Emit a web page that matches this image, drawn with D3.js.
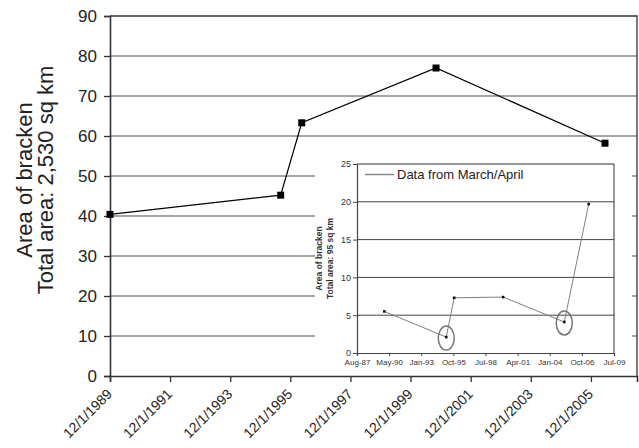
<!DOCTYPE html>
<html>
<head>
<meta charset="utf-8">
<script src="https://cdn.jsdelivr.net/npm/d3@7"></script>
<style>
  body { margin: 0; background: #fff; }
  svg { display: block; font-family: "Liberation Sans", Arial, sans-serif; }
</style>
</head>
<body>
<div id="chart"></div>
<script>
// -----------------------------
// DATA
// -----------------------------
const mainDates  = ["1989-12-01", "1995-08-06", "1996-04-18", "2000-10-06", "2006-05-21"];
const mainValues = [40.4, 45.2, 63.3, 77.0, 58.2];
const mainXTicks = ["1989-12-01", "1991-12-01", "1993-12-01", "1995-12-01", "1997-12-01",
                    "1999-12-01", "2001-12-01", "2003-12-01", "2005-12-01"];
const mainYTicks = [0, 10, 20, 30, 40, 50, 60, 70, 80, 90];
const mainTitle  = ["Area of bracken", "Total area: 2,530 sq km"];

const insetDates  = ["1989-12-07", "1995-03-20", "1995-11-22", "2000-01-24", "2005-04-10", "2007-05-11"];
const insetValues = [5.5, 2.1, 7.3, 7.4, 4.1, 19.7];
const insetXTicks = ["1987-08-11", "1990-05-07", "1993-01-31", "1995-10-28", "1998-07-24",
                     "2001-04-19", "2004-01-14", "2006-10-10", "2009-07-06"];
const insetYTicks = [0, 5, 10, 15, 20, 25];
const insetTitle  = ["Area of bracken", "Total area: 95 sq km"];
const insetLegend = "Data from March/April";
const circled     = [1, 4];   // points ringed in the inset

const parse = d3.utcParse("%Y-%m-%d");

const drawChart = () => {
  const width = 639, height = 448;

  const svg = d3.select("#chart").append("svg")
    .attr("width", width)
    .attr("height", height);

  // -----------------------------
  // MAIN CHART
  // -----------------------------
  const m = { left: 110, right: 637, top: 16, bottom: 376 };

  const x = d3.scaleUtc()
    .domain([parse("1989-12-01"), parse("2007-06-14")])
    .range([m.left, m.right]);

  const y = d3.scaleLinear()
    .domain([0, 90])
    .range([m.bottom, m.top]);

  // gridlines
  svg.append("g")
    .selectAll("line")
    .data(mainYTicks.slice(1, -1))
    .join("line")
    .attr("x1", m.left).attr("x2", m.right)
    .attr("y1", d => y(d)).attr("y2", d => y(d))
    .attr("stroke", "#4a4a4a")
    .attr("stroke-width", 1);

  // plot frame (top + right)
  svg.append("path")
    .attr("d", `M${m.left},${m.top}H${m.right}V${m.bottom}`)
    .attr("fill", "none")
    .attr("stroke", "#333")
    .attr("stroke-width", 1.3);

  const yAxis = svg.append("g")
    .attr("transform", `translate(${m.left},0)`)
    .call(d3.axisLeft(y).tickValues(mainYTicks).tickSize(6).tickPadding(7));

  const xAxis = svg.append("g")
    .attr("transform", `translate(0,${m.bottom})`)
    .call(d3.axisBottom(x).tickValues(mainXTicks.map(parse)).tickSize(6).tickFormat(""));

  [yAxis, xAxis].forEach(a => {
    a.select(".domain").attr("stroke", "#333").attr("stroke-width", 1.6);
    a.selectAll(".tick line").attr("stroke", "#333").attr("stroke-width", 1.3);
  });
  yAxis.selectAll(".tick text")
    .style("font-size", "17px")
    .attr("fill", "#222");

  // rotated date labels
  const fmtMain = d3.utcFormat("%-m/%-d/%Y");
  svg.append("g")
    .selectAll("text")
    .data(mainXTicks.map(parse))
    .join("text")
    .attr("transform", d => `translate(${x(d) - 4},388) rotate(-45)`)
    .attr("dy", "0.71em")
    .attr("text-anchor", "end")
    .style("font-size", "14px")
    .attr("fill", "#222")
    .text(fmtMain);

  // y title
  svg.append("text")
    .attr("transform", "translate(32,180) rotate(-90)")
    .attr("text-anchor", "middle")
    .style("font-size", "22px")
    .attr("fill", "#222")
    .selectAll("tspan")
    .data(mainTitle)
    .join("tspan")
    .attr("x", 0)
    .attr("dy", (d, i) => i ? 21 : 0)
    .text(d => d);

  // line + markers
  const mainData = mainDates.map((d, i) => ({ date: parse(d), value: mainValues[i] }));

  svg.append("path")
    .datum(mainData)
    .attr("fill", "none")
    .attr("stroke", "#000")
    .attr("stroke-width", 1.2)
    .attr("d", d3.line().x(d => x(d.date)).y(d => y(d.value)));

  svg.append("g")
    .selectAll("rect")
    .data(mainData)
    .join("rect")
    .attr("x", d => x(d.date) - 3.5)
    .attr("y", d => y(d.value) - 3.5)
    .attr("width", 7).attr("height", 7)
    .attr("fill", "#000");

  // -----------------------------
  // INSET CHART
  // -----------------------------
  svg.append("rect")
    .attr("x", 315).attr("y", 150)
    .attr("width", 317).attr("height", 223)
    .attr("fill", "#fff");

  const n = { left: 357, right: 614, top: 164, bottom: 353 };

  const ix = d3.scaleUtc()
    .domain([parse(insetXTicks[0]), parse(insetXTicks[insetXTicks.length - 1])])
    .range([n.left, n.right]);

  const iy = d3.scaleLinear()
    .domain([0, 25])
    .range([n.bottom, n.top]);

  svg.append("g")
    .selectAll("line")
    .data(insetYTicks.slice(1, -1))
    .join("line")
    .attr("x1", n.left).attr("x2", n.right)
    .attr("y1", d => iy(d)).attr("y2", d => iy(d))
    .attr("stroke", "#444")
    .attr("stroke-width", 1);

  svg.append("path")
    .attr("d", `M${n.left},${n.top}H${n.right}V${n.bottom}`)
    .attr("fill", "none")
    .attr("stroke", "#333")
    .attr("stroke-width", 1);

  const iyAxis = svg.append("g")
    .attr("transform", `translate(${n.left},0)`)
    .call(d3.axisLeft(iy).tickValues(insetYTicks).tickSize(4).tickPadding(2));

  const ixAxis = svg.append("g")
    .attr("transform", `translate(0,${n.bottom})`)
    .call(d3.axisBottom(ix).tickValues(insetXTicks.map(parse)).tickSize(3).tickPadding(3)
      .tickFormat(d3.utcFormat("%b-%y")));

  [iyAxis, ixAxis].forEach(a => {
    a.select(".domain").attr("stroke", "#444").attr("stroke-width", 1.2);
    a.selectAll(".tick line").attr("stroke", "#444");
    a.selectAll(".tick text").attr("fill", "#333");
  });
  iyAxis.selectAll(".tick text").style("font-size", "9px");
  ixAxis.selectAll(".tick text").style("font-size", "8px");

  svg.append("text")
    .attr("transform", `translate(322,${(n.top + n.bottom) / 2}) rotate(-90)`)
    .attr("text-anchor", "middle")
    .style("font-size", "8.5px")
    .style("font-weight", "bold")
    .attr("fill", "#333")
    .selectAll("tspan")
    .data(insetTitle)
    .join("tspan")
    .attr("x", 0)
    .attr("dy", (d, i) => i ? 10.5 : 0)
    .text(d => d);

  // legend
  svg.append("line")
    .attr("x1", 365).attr("x2", 394)
    .attr("y1", 174.5).attr("y2", 174.5)
    .attr("stroke", "#888")
    .attr("stroke-width", 1.5);

  svg.append("text")
    .attr("x", 397).attr("y", 179)
    .style("font-size", "13px")
    .attr("fill", "#222")
    .text(insetLegend);

  // inset line + dots
  const insetData = insetDates.map((d, i) => ({ date: parse(d), value: insetValues[i] }));

  svg.append("path")
    .datum(insetData)
    .attr("fill", "none")
    .attr("stroke", "#808080")
    .attr("stroke-width", 1)
    .attr("d", d3.line().x(d => ix(d.date)).y(d => iy(d.value)));

  svg.append("g")
    .selectAll("rect")
    .data(insetData)
    .join("rect")
    .attr("x", d => ix(d.date) - 1.3)
    .attr("y", d => iy(d.value) - 1.3)
    .attr("width", 2.6).attr("height", 2.6)
    .attr("fill", "#111");

  // rings around flagged points
  svg.append("g")
    .selectAll("ellipse")
    .data(circled.map(i => insetData[i]))
    .join("ellipse")
    .attr("cx", d => ix(d.date))
    .attr("cy", d => iy(d.value) + 1)
    .attr("rx", 8).attr("ry", 12)
    .attr("fill", "none")
    .attr("stroke", "#777")
    .attr("stroke-width", 1.5);
};

drawChart();
</script>
</body>
</html>
